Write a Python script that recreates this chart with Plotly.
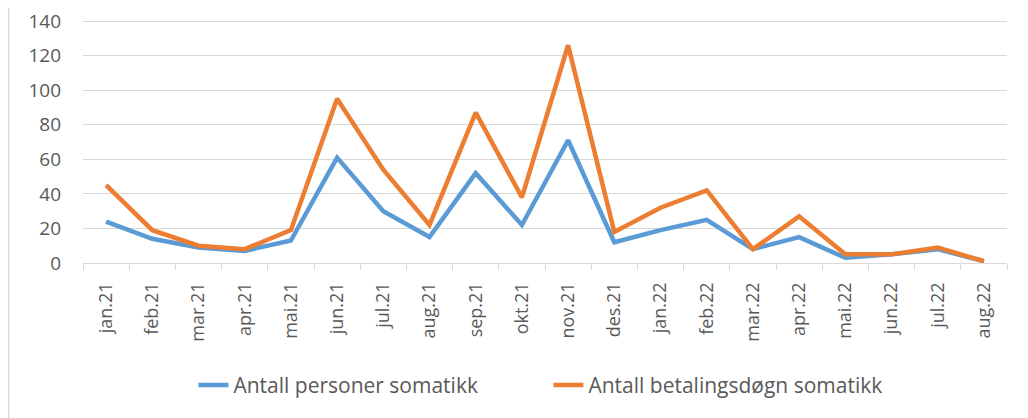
import plotly.graph_objects as go

months = ["jan.21", "feb.21", "mar.21", "apr.21", "mai.21", "jun.21", "jul.21", "aug.21",
          "sep.21", "okt.21", "nov.21", "des.21", "jan.22", "feb.22", "mar.22", "apr.22",
          "mai.22", "jun.22", "jul.22", "aug.22"]
personer = [24, 14, 9, 7, 13, 61, 30, 15, 52, 22, 71, 12, 19, 25, 8, 15, 3, 5, 8, 1]
betalingsdogn = [45, 19, 10, 8, 19, 95, 54, 22, 87, 38, 126, 18, 32, 42, 8, 27, 5, 5, 9, 1]
y_ticks = [0, 20, 40, 60, 80, 100, 120, 140]

series_names = ["Antall personer somatikk", "Antall betalingsdøgn somatikk"]
colors = ["#5b9bd5", "#ed7d31"]

fig = go.Figure()
for name, vals, c in zip(series_names, [personer, betalingsdogn], colors):
    fig.add_trace(go.Scatter(x=months, y=vals, mode="lines", name=name,
                             line=dict(color=c, width=4.5)))

fig.update_layout(
    width=1020, height=410,
    margin=dict(l=75, r=21, t=12, b=155, autoexpand=False),
    paper_bgcolor="white", plot_bgcolor="white",
    font=dict(family="Open Sans, Liberation Sans, Arial, sans-serif", color="#595959", size=18),
    legend=dict(orientation="h", x=0.1195, xanchor="left", y=-0.504, yanchor="middle",
                font=dict(size=21, color="#595959", family="Open Sans, Liberation Sans, Arial"),
                entrywidth=310, entrywidthmode="pixels",
                traceorder="normal"),
    showlegend=True,
)
fig.update_yaxes(range=[0, 140.6], tickvals=y_ticks, showgrid=True, gridcolor="#d9d9d9", gridwidth=1.3,
                 zeroline=False, showline=False, ticks="", ticklabelstandoff=21,
                 ticklabeloverflow="allow", automargin=False, tickfont=dict(size=19))
fig.update_xaxes(type="category", range=[-0.5, len(months) - 0.5], tickangle=-90,
                 showgrid=False, showline=True, automargin=False,
                 linecolor="#d9d9d9", linewidth=1.3, ticks="outside", tickson="boundaries",
                 ticklen=6, tickcolor="#d9d9d9", ticklabelstandoff=11,
                 tickfont=dict(size=18))
fig.add_shape(type="line", xref="paper", yref="paper", x0=-0.0805, x1=-0.0805, y0=-0.64, y1=1.054,
              line=dict(color="#d9d9d9", width=1.5))

fig.write_html("out.html")
